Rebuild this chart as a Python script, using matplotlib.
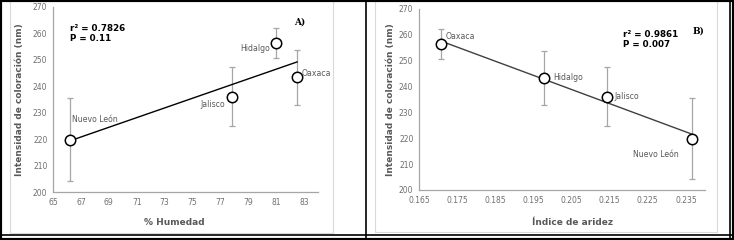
import numpy as np
import matplotlib
matplotlib.use("Agg")
import matplotlib.pyplot as plt
from matplotlib.lines import Line2D
from matplotlib.patches import Rectangle

# datos
estados_a = ["Nuevo León", "Jalisco", "Hidalgo", "Oaxaca"]
humedad = [66.24, 77.8, 81.0, 82.5]
intens_a = [219.8, 236.1, 256.4, 243.4]
err_a = [15.6, 11.3, 5.8, 10.4]

estados_b = ["Oaxaca", "Hidalgo", "Jalisco", "Nuevo León"]
aridez = [0.1709, 0.1978, 0.2142, 0.2367]
intens_b = [256.4, 243.4, 236.1, 219.8]
err_b = [5.8, 10.4, 11.3, 15.6]

stats_a = "r² = 0.7826\nP = 0.11"
stats_b = "r² = 0.9861\nP = 0.007"

W, H = 734, 240
fig = plt.figure(figsize=(W / 100, H / 100), dpi=100)

gris_txt = "#595959"
gris_tick = "#6f6f6f"
gris_eje = "#a6a6a6"


def px(x0, y0, x1, y1):
    # caja en pixeles (origen arriba) -> fraccion de figura
    return [x0 / W, 1 - y1 / H, (x1 - x0) / W, (y1 - y0) / H]


def panel(ax, x, y, e, nombres, offs, linea_color, xlabel, xpos, ylab_x, xlab_y):
    ax.errorbar(x, y, yerr=e, fmt="none", ecolor=gris_eje, elinewidth=0.9,
                capsize=2, capthick=0.9, zorder=2)
    m, b = np.polyfit(x, y, 1)
    xs = np.array([min(x), max(x)])
    ax.plot(xs, m * xs + b, color=linea_color, lw=1.0, zorder=3)
    ax.plot(x, y, "o", mfc="white", mec="black", ms=7.5, mew=1.1, zorder=4)
    for xi, yi, n, (dx, dy, ha) in zip(x, y, nombres, offs):
        ax.annotate(n, (xi, yi), xytext=(dx, dy), textcoords="offset pixels",
                    ha=ha, va="center", fontsize=5.6, color=gris_txt, zorder=5)
    for s in ["top", "right"]:
        ax.spines[s].set_visible(False)
    for s in ["left", "bottom"]:
        ax.spines[s].set_color(gris_eje)
        ax.spines[s].set_linewidth(0.9)
    ax.tick_params(length=0, labelsize=5.5, labelcolor=gris_tick, pad=4)
    ax.set_ylim(200, 270)
    ax.set_yticks(np.arange(200, 271, 10))
    ax.set_ylabel("Intensidad de coloración (nm)", fontsize=6.5,
                  fontweight="bold", color=gris_txt)
    ax.yaxis.set_label_coords(ylab_x, 0.5)
    ax.set_xlabel(xlabel, fontsize=6.5, fontweight="bold", color=gris_txt)
    ax.xaxis.set_label_coords(xpos, xlab_y)


# panel A
axA = fig.add_axes(px(53, 7, 318, 192))
panel(axA, humedad, intens_a, err_a, estados_a,
      [(2, 20, "left"), (-6, -8, "right"), (-6, -6, "right"), (5, 4, "left")],
      "black", "% Humedad", 0.457, -29 / 265, -26 / 185)
axA.set_xlim(65, 84)
axA.set_xticks(np.arange(65, 84, 2))
axA.text(66.2, 263.5, stats_a, fontsize=6.3, fontweight="bold", va="top",
         linespacing=1.1)
axA.text(82.3, 263.5, "A)", fontsize=6.5, fontweight="bold", family="DejaVu Serif")

# panel B
axB = fig.add_axes(px(419, 9, 705, 190))
panel(axB, aridez, intens_b, err_b, estados_b,
      [(4, 8, "left"), (9, 0, "left"), (8, 0, "left"), (-14, -16, "right")],
      "#404040", "Índice de aridez", 0.537, -24 / 286, -28 / 181)
axB.set_xlim(0.165, 0.24)
axB.set_xticks(np.round(np.arange(0.165, 0.2351, 0.01), 3))
axB.set_xticklabels([f"{v:.3f}" for v in np.arange(0.165, 0.2351, 0.01)])
axB.text(0.2186, 261.8, stats_b, fontsize=6.3, fontweight="bold", va="top",
         linespacing=1.1)
axB.text(0.2368, 260.5, "B)", fontsize=6.5, fontweight="bold", family="DejaVu Serif")

# marcos de los graficos (gris claro) y bordes negros
for x0, y0, x1, y1 in [(10, -2, 333, 233), (375, -2, 717, 232)]:
    fig.add_artist(Rectangle((x0 / W, 1 - y1 / H), (x1 - x0) / W, (y1 - y0) / H,
                             transform=fig.transFigure, fill=False,
                             ec="#d9d9d9", lw=0.8))
fig.add_artist(Rectangle((0, 0), 1, 1, transform=fig.transFigure, fill=False,
                         ec="black", lw=3))
for x in [366 / W, 729.5 / W]:
    fig.add_artist(Line2D([x, x], [0, 1], transform=fig.transFigure,
                          color="black", lw=1.2))
yb = 1 - 235 / H
fig.add_artist(Line2D([0, 1], [yb, yb], transform=fig.transFigure,
                      color="black", lw=1.2))

fig.savefig("out.png", dpi=100)
